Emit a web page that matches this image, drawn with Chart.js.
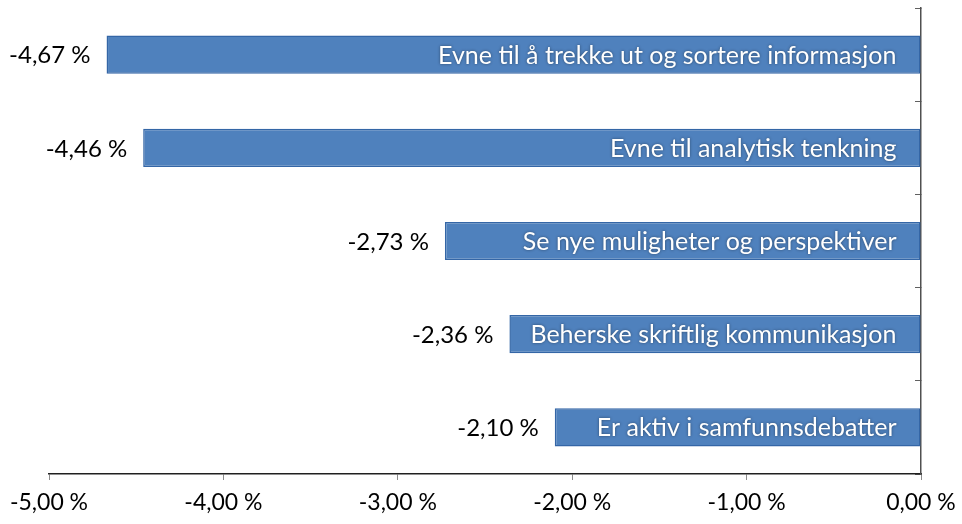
<!DOCTYPE html>
<html>
<head>
<meta charset="utf-8">
<script src="https://cdn.jsdelivr.net/npm/chart.js@4"></script>
<style>
  html, body { margin: 0; padding: 0; background: #fff; }
  #wrap { width: 962px; height: 524px; position: relative; }
</style>
</head>
<body>
<div id="wrap"><canvas id="c"></canvas></div>
<script>
// data
const categories = [
    'Evne til å trekke ut og sortere informasjon',
    'Evne til analytisk tenkning',
    'Se nye muligheter og perspektiver',
    'Beherske skriftlig kommunikasjon',
    'Er aktiv i samfunnsdebatter'
];
const values = [-4.67, -4.46, -2.73, -2.36, -2.10];
const xTicks = [-5, -4, -3, -2, -1, 0];

const FONT = "Lato, 'Open Sans', sans-serif";

function fmt(v, d) {
    return v.toFixed(d).replace('.', ',') + ' %';
}

// labels inside the bars (white) and value labels left of them (black)
const barLabels = {
    id: 'barLabels',
    afterDatasetsDraw(chart) {
        const ctx = chart.ctx;
        const meta = chart.getDatasetMeta(0);
        ctx.save();
        ctx.textBaseline = 'middle';
        meta.data.forEach((bar, i) => {
            const left = Math.min(bar.x, bar.base);
            const right = Math.max(bar.x, bar.base);
            // category text
            ctx.font = '25px ' + FONT;
            ctx.textAlign = 'right';
            ctx.fillStyle = '#ffffff';
            ctx.shadowColor = 'rgba(0,0,0,0.45)';
            ctx.shadowBlur = 3;
            ctx.fillText(categories[i], right - 24, bar.y + 1);
            // value text
            ctx.shadowColor = 'transparent';
            ctx.shadowBlur = 0;
            ctx.font = '24px ' + FONT;
            ctx.fillStyle = '#000000';
            ctx.fillText(fmt(values[i], 2), left - 16, bar.y + 1);
        });
        ctx.restore();
    }
};

new Chart(document.getElementById('c'), {
    type: 'bar',
    data: {
        labels: categories,
        datasets: [{
            data: values,
            backgroundColor: '#4f81bd',
            borderColor: '#3466a6',
            borderWidth: 1.5,
            borderSkipped: false,
            barPercentage: 0.41,
            categoryPercentage: 1.0
        }]
    },
    options: {
        indexAxis: 'y',
        responsive: true,
        maintainAspectRatio: false,
        animation: false,
        devicePixelRatio: 1,
        layout: { padding: { left: 49, top: 8, right: 0, bottom: 0 } },
        plugins: {
            legend: { display: false },
            tooltip: { enabled: false }
        },
        scales: {
            x: {
                min: -5,
                max: 0,
                afterBuildTicks(axis) {
                    axis.ticks = xTicks.map(v => ({ value: v }));
                },
                afterFit(axis) {
                    axis.height = 50;
                    axis.paddingLeft = 0;
                    axis.paddingRight = 0;
                },
                grid: {
                    drawOnChartArea: false,
                    drawTicks: true,
                    tickLength: 6,
                    color: '#8c8c8c'
                },
                border: { display: true, color: '#202020', width: 1.5 },
                ticks: {
                    color: '#000',
                    padding: 9,
                    maxRotation: 0,
                    font: { family: FONT, size: 23 },
                    callback: v => fmt(v, 2)
                }
            },
            y: {
                position: 'right',
                offset: true,
                afterFit(axis) { axis.width = 41; },
                grid: {
                    offset: true,
                    drawOnChartArea: false,
                    drawTicks: true,
                    tickLength: -6,
                    color: '#606060'
                },
                border: { display: true, color: '#505050', width: 1.5 },
                ticks: { display: false }
            }
        }
    },
    plugins: [barLabels]
});
</script>
</body>
</html>
